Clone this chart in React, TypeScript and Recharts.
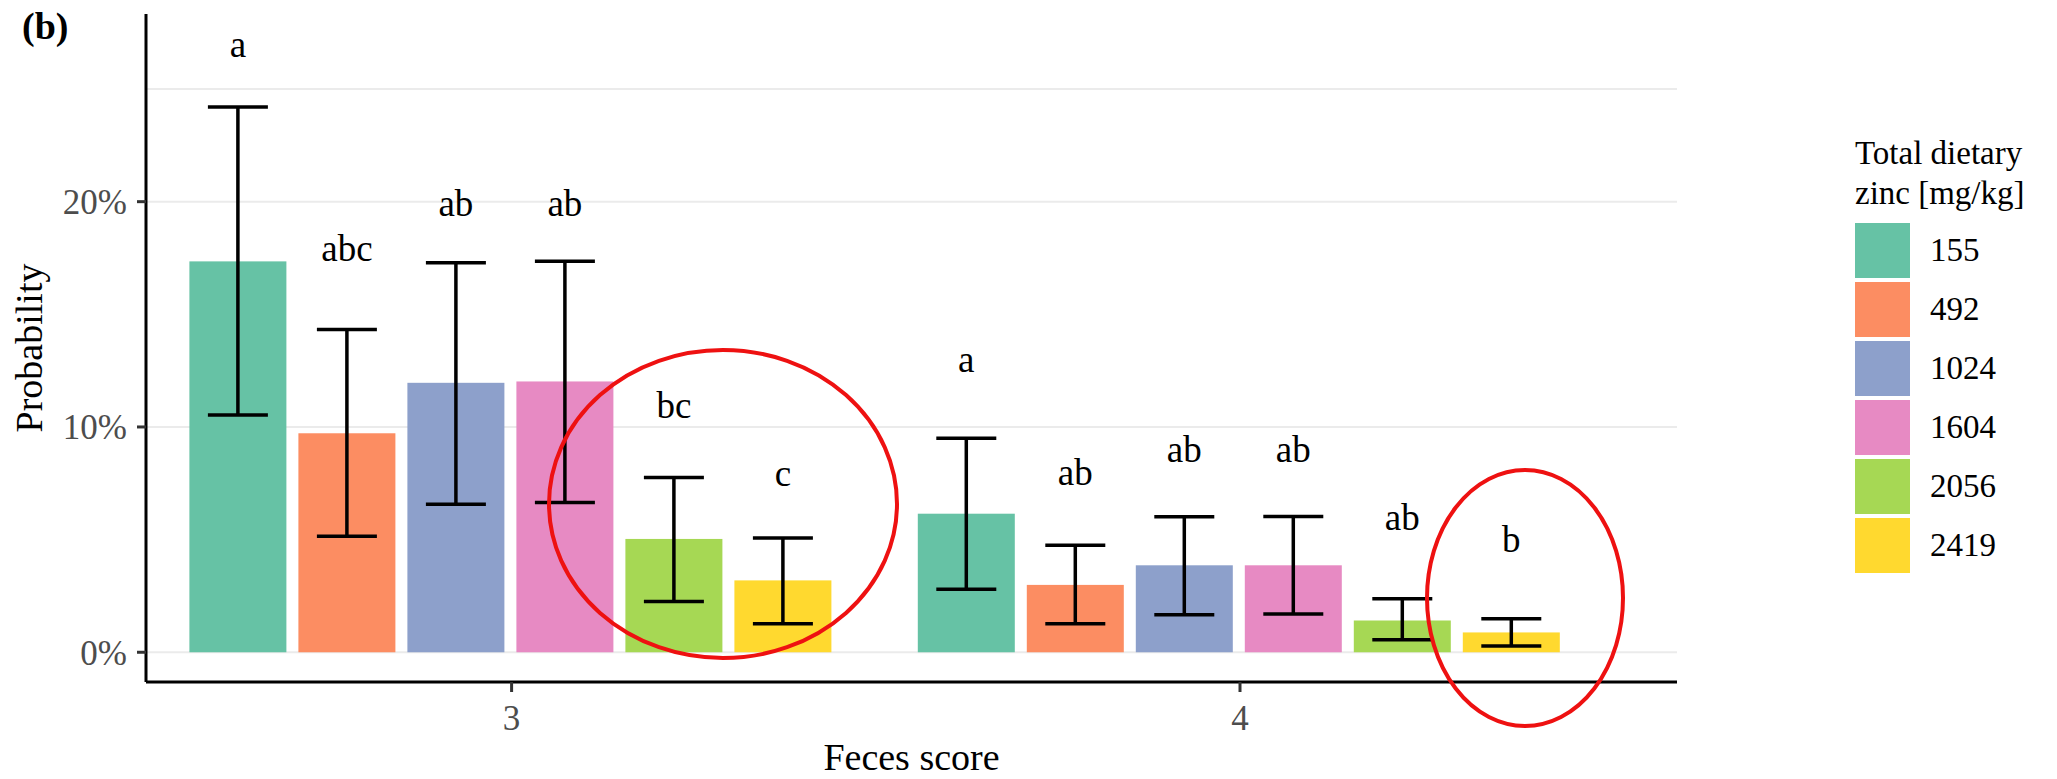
import { BarChart, Bar, XAxis, YAxis, CartesianGrid, ErrorBar, Label } from 'recharts'

const categories = ['3', '4']
const zincLevels = ['155', '492', '1024', '1604', '2056', '2419']

// probability in %, per zinc level, for feces score 3 and 4
const mean3 = [17.35, 9.72, 11.96, 12.02, 5.03, 3.19]
const lower3 = [10.53, 5.15, 6.57, 6.65, 2.25, 1.26]
const upper3 = [24.2, 14.33, 17.29, 17.35, 7.76, 5.07]
const mean4 = [6.15, 2.99, 3.86, 3.86, 1.41, 0.88]
const lower4 = [2.8, 1.27, 1.67, 1.7, 0.55, 0.28]
const upper4 = [9.5, 4.75, 6.02, 6.03, 2.38, 1.49]

// significance letters and the height (%) where their baseline sits
const letters3 = ['a', 'abc', 'ab', 'ab', 'bc', 'c']
const letters4 = ['a', 'ab', 'ab', 'ab', 'ab', 'b']
const letterPos3 = [26.4, 17.37, 19.35, 19.35, 10.4, 7.4]
const letterPos4 = [12.42, 7.44, 8.43, 8.43, 5.44, 4.43]

const yTicks = [0, 10, 20]
const gridLines = [0, 10, 20, 25]

const colors = ['#66c2a5', '#fc8d62', '#8da0cb', '#e78ac3', '#a6d854', '#ffd92f']
const serif = '"Liberation Serif", "Times New Roman", serif'

const means = [mean3, mean4]
const lowers = [lower3, lower4]
const uppers = [upper3, upper4]
const letters = [letters3, letters4]
const letterPos = [letterPos3, letterPos4]

const chartData = categories.map((cat, c) => {
  const row: Record<string, any> = { score: cat }
  zincLevels.forEach((_, i) => {
    row[`v${i}`] = means[c][i]
    row[`e${i}`] = [means[c][i] - lowers[c][i], uppers[c][i] - means[c][i]]
    row[`t${i}`] = letters[c][i]
    row[`p${i}`] = letterPos[c][i]
  })
  return row
})

// bar rect plus its letter, placed using the bar's own px-per-unit
function barWithLetter(i: number) {
  return (props: any) => {
    const { x, y, width, height, payload } = props
    const v = payload[`v${i}`]
    const base = y + height
    const perUnit = height / v
    const ty = base - payload[`p${i}`] * perUnit
    return (
      <g>
        <rect x={x} y={y} width={width} height={height} fill={colors[i]} />
        <text x={x + width / 2} y={ty} textAnchor="middle" fontSize={37} fontFamily={serif} fill="#000">
          {payload[`t${i}`]}
        </text>
      </g>
    )
  }
}

export default function App() {
  return (
    <div style={{ position: 'relative', width: 2057, height: 779, background: '#fff' }}>
      <style>{`body{margin:0}`}</style>
      <BarChart
        width={2057}
        height={779}
        data={chartData}
        margin={{ top: 14, right: 380, left: 0, bottom: 0 }}
        barCategoryGap={42}
        barGap={12}
      >
        <CartesianGrid horizontalValues={gridLines} vertical={false} stroke="#ebebeb" strokeWidth={2} />
        <XAxis
          dataKey="score"
          height={97}
          padding={{ left: 1.4, right: 72.8 }}
          tickSize={10}
          tickMargin={13}
          tick={{ fontSize: 35, fill: '#4d4d4d', fontFamily: serif }}
          axisLine={{ stroke: '#000', strokeWidth: 3 }}
          tickLine={{ stroke: '#333', strokeWidth: 3 }}
        >
          <Label value="Feces score" position="insideBottom" offset={9} style={{ fontSize: 38, fontFamily: serif, fill: '#000' }} />
        </XAxis>
        <YAxis
          width={146}
          domain={[-1.32, 28.33]}
          allowDataOverflow
          ticks={yTicks}
          tickFormatter={(v: number) => `${v}%`}
          tickSize={9}
          tickMargin={10}
          tick={{ fontSize: 35, fill: '#4d4d4d', fontFamily: serif }}
          axisLine={{ stroke: '#000', strokeWidth: 3 }}
          tickLine={{ stroke: '#333', strokeWidth: 3 }}
        >
          <Label
            value="Probability"
            angle={-90}
            position="insideLeft"
            offset={29}
            style={{ fontSize: 38, fontFamily: serif, fill: '#000', textAnchor: 'middle' }}
          />
        </YAxis>
        {zincLevels.map((lvl, i) => (
          <Bar key={lvl} dataKey={`v${i}`} name={lvl} fill={colors[i]} isAnimationActive={false} shape={barWithLetter(i)}>
            <ErrorBar dataKey={`e${i}`} width={30} strokeWidth={3.5} stroke="#000" direction="y" isAnimationActive={false} />
          </Bar>
        ))}
      </BarChart>

      <div style={{ position: 'absolute', left: 1855, top: 133, fontFamily: serif, color: '#000' }}>
        <div style={{ fontSize: 33, lineHeight: '40px' }}>
          Total dietary
          <br />
          zinc [mg/kg]
        </div>
        <div style={{ marginTop: 10 }}>
          {zincLevels.map((lvl, i) => (
            <div key={lvl} style={{ display: 'flex', alignItems: 'center', height: 55, marginBottom: 4 }}>
              <div style={{ width: 55, height: 55, background: colors[i] }} />
              <span style={{ marginLeft: 20, fontSize: 33 }}>{lvl}</span>
            </div>
          ))}
        </div>
      </div>

      <svg width={2057} height={779} style={{ position: 'absolute', left: 0, top: 0, pointerEvents: 'none' }}>
        <text x={22} y={39} fontSize={38} fontWeight="bold" fontFamily={serif} fill="#000">(b)</text>
        <ellipse cx={723} cy={504} rx={174} ry={154} fill="none" stroke="#ee1111" strokeWidth={4} />
        <ellipse cx={1525} cy={598} rx={98} ry={128} fill="none" stroke="#ee1111" strokeWidth={4} />
      </svg>
    </div>
  )
}
